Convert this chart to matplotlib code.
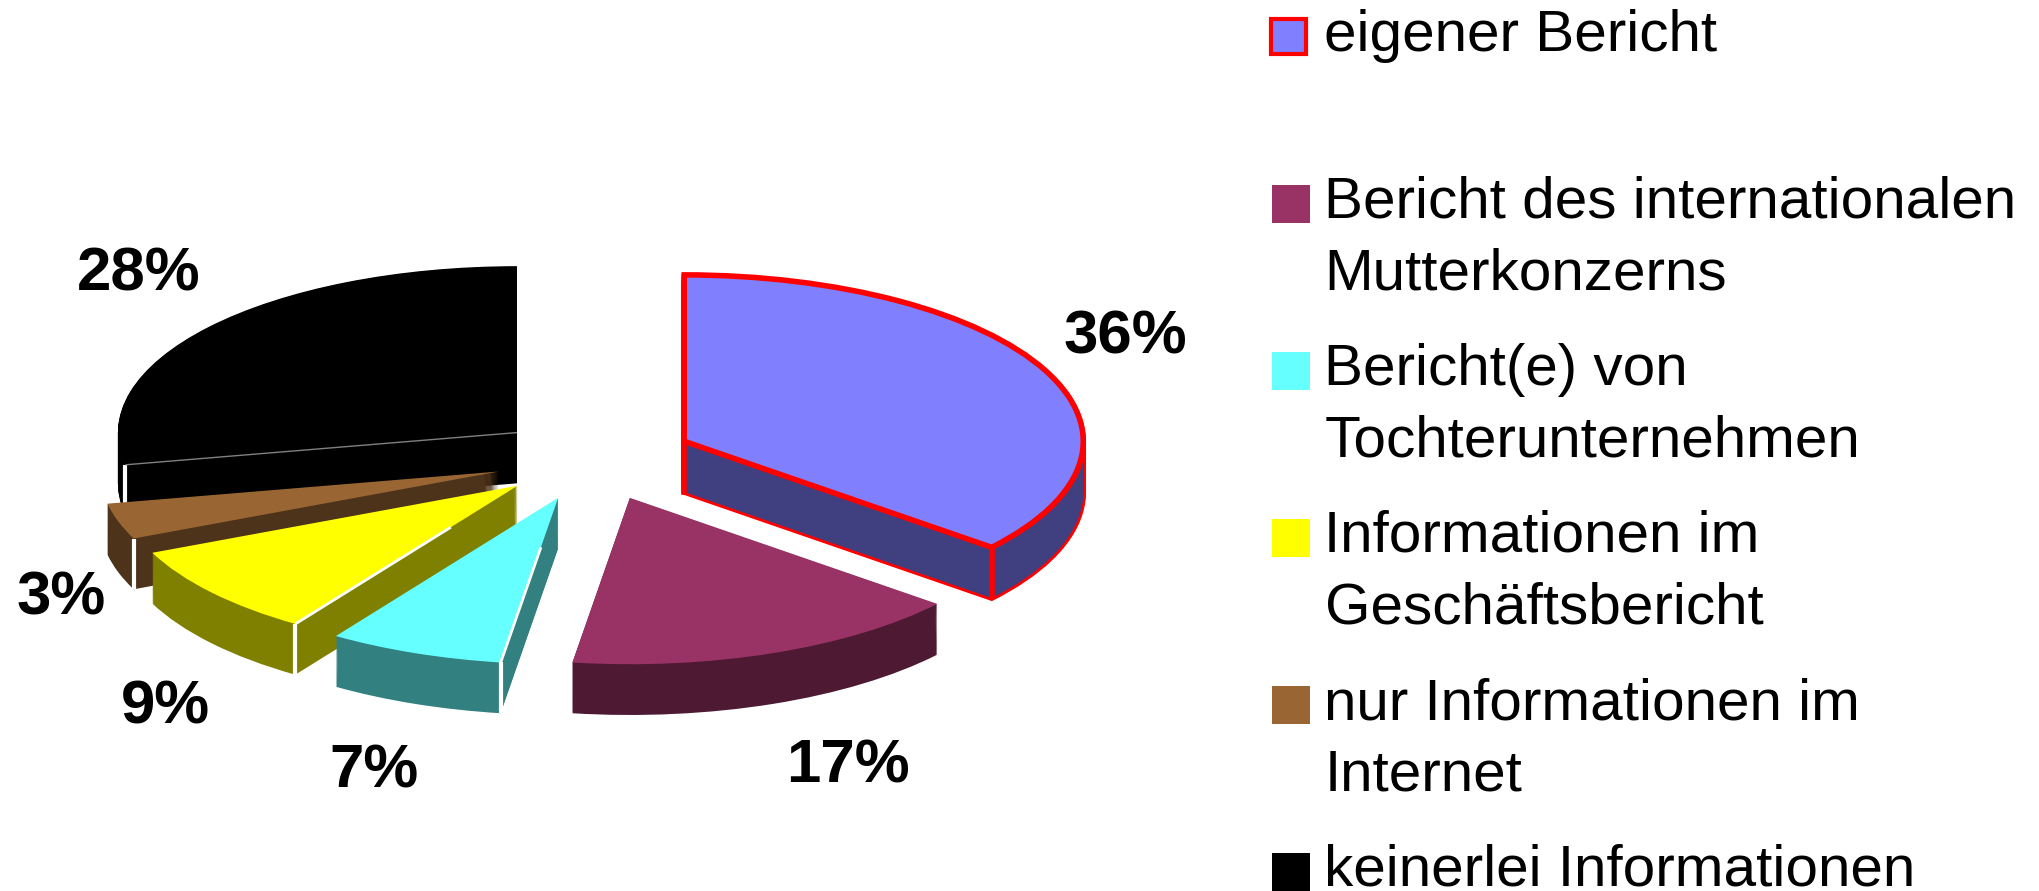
import matplotlib
matplotlib.use('Agg')
import matplotlib.pyplot as plt
from matplotlib.patches import Rectangle
import numpy as np

plt.rcParams['font.family'] = ['Liberation Sans', 'DejaVu Sans']

# slice sizes (labels are rounded, the drawn angles say a bit more)
values = [36.0, 16.3, 7.1, 9.0, 3.5, 28.1]
pct_labels = ['36%', '17%', '7%', '9%', '3%', '28%']
legend_names = ['eigener Bericht',
                'Bericht des internationalen\nMutterkonzerns',
                'Bericht(e) von\nTochterunternehmen',
                'Informationen im\nGeschäftsbericht',
                'nur Informationen im\nInternet',
                'keinerlei Informationen']
top_colors = ['#8080ff', '#993366', '#66ffff', '#ffff00', '#996633', '#000000']
side_colors = ['#404080', '#4d1933', '#338080', '#808000', '#4d3319', '#000000']
# black first, blue last
draw_rank = [5, 4, 3, 2, 1, 0]
explode = [0.25] * 6

W, H = 2039, 891
CX, CY = 594.0, 459.0   # pie centre in pixels
RX, RY = 399.0, 166.4   # pie radii in pixels
DEPTH = 0.305

label_pos = [(1125, 338), (848, 767), (374, 772), (165, 708), (61, 599), (139, 275)]

fig = plt.figure(figsize=(W / 100, H / 100), dpi=100)
ax = fig.add_axes([0, 0, 1, 1])


def layer(dy, colors, edge=None, lw=0, z=0.0):
    wedges, _ = ax.pie(values, explode=explode, colors=colors, startangle=90,
                       counterclock=False, center=(0, -dy), normalize=True)
    for i, w in enumerate(wedges):
        w.set_zorder(draw_rank[i] + z)
        w.set_linewidth(0)
        if edge is not None and edge[i] is not None:
            w.set_edgecolor(edge[i])
            w.set_linewidth(lw)
        elif edge is not None:
            w.set_visible(False)
    return wedges


steps = np.linspace(DEPTH, 0.004, 50)
red_only = ['red', None, None, None, None, None]
# red silhouette behind the blue slice
for d in steps[::3]:
    layer(d, side_colors, edge=red_only, lw=4, z=0.1)
for d in steps:
    layer(d, side_colors, z=0.2)
top = layer(0, top_colors, z=0.5)
top[0].set_edgecolor('red')
top[0].set_linewidth(4)

# front corners and top edges of the radial cuts
corner_colors = ['red', None, 'white', 'white', 'white', 'white']
ridge_colors = [None, None, 'white', 'white', None, '#808080']
for i, w in enumerate(top):
    ang = w.theta1 if i == 0 else w.theta2
    x0, y0 = w.center
    px = x0 + np.cos(np.radians(ang))
    py = y0 + np.sin(np.radians(ang))
    if corner_colors[i]:
        ax.plot([px, px], [py, py - DEPTH], color=corner_colors[i],
                lw=4 if i == 0 else 3, zorder=draw_rank[i] + 0.6, solid_capstyle='butt')
    if ridge_colors[i]:
        start = 0.0 if i == 5 else 0.3
        ax.plot([x0 + start * (px - x0), px], [y0 + start * (py - y0), py], color=ridge_colors[i],
                lw=1 if i == 5 else 2, zorder=draw_rank[i] + 0.6, solid_capstyle='butt')
# blue slice inner vertical edge
bx, by = top[0].center
ax.plot([bx, bx], [by, by - DEPTH], color='red', lw=4, zorder=5.6)

# pie forces equal aspect, the tilted look needs it off
ax.set_aspect('auto')
ax.set_xlim(-CX / RX, (W - CX) / RX)
ax.set_ylim((CY - H) / RY, CY / RY)

for txt, (x, y) in zip(pct_labels, label_pos):
    fig.text(x / W, 1 - y / H, txt, ha='center', va='center', fontsize=44.5, fontweight='bold')

# legend, one row is two text lines high
for i, name in enumerate(legend_names):
    base = 51 + i * 167
    for k, line in enumerate(name.split('\n')):
        fig.text(1324.5 / W, 1 - (base + k * 71.5) / H, line, ha='left', va='baseline',
                 fontsize=42.1, color='black')
    cy = base - 14
    if i == 0:
        sw = Rectangle(((1271) / W, 1 - (cy + 17) / H), 35 / W, 35 / H, transform=fig.transFigure,
                       facecolor=top_colors[i], edgecolor='red', linewidth=3)
    else:
        sw = Rectangle((1272 / W, 1 - (cy + 19) / H), 38 / W, 38 / H, transform=fig.transFigure,
                       facecolor=top_colors[i], edgecolor='none')
    fig.add_artist(sw)

fig.savefig('out.png', dpi=100, facecolor='white')
